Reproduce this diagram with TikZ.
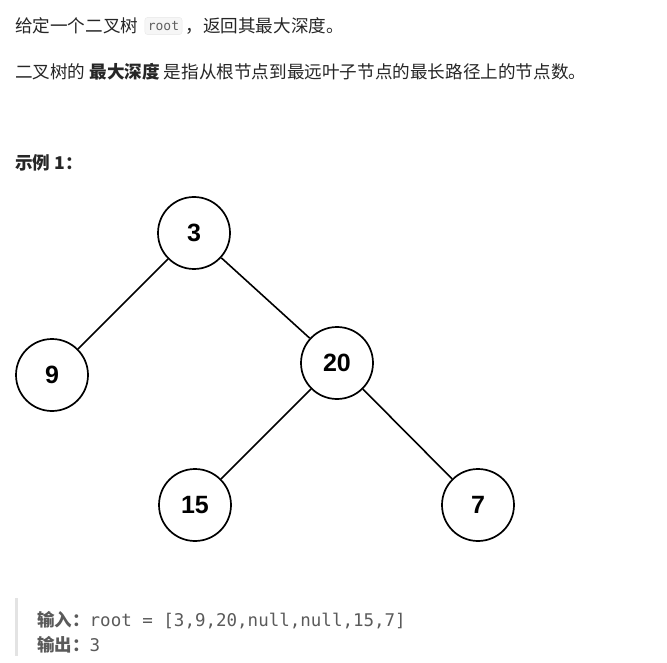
\documentclass[tikz,border=0pt]{standalone}
\usepackage{fontspec}
\setmainfont{Noto Sans CJK SC}
\setmonofont{DejaVu Sans Mono}
\newfontfamily\numfont{Liberation Sans}
\usetikzlibrary{positioning}
\definecolor{txt}{HTML}{262626}
\definecolor{codetxt}{HTML}{5A5A5A}

\begin{document}
\begin{tikzpicture}[x=1pt, y=-1pt,
  line/.style={anchor=west, inner sep=0pt, text=txt, font=\fontsize{17.6}{20}\selectfont},
  inlinecode/.style={draw=gray!18, fill=gray!7, rounded corners=3pt, inner xsep=3pt, inner ysep=4pt, text=gray!75!black, font=\ttfamily\fontsize{13}{15}\selectfont},
  treenode/.style={draw, line width=1.7pt, circle, minimum size=72pt, inner sep=0pt, font=\numfont\bfseries\fontsize{25}{30}\selectfont},
  edge/.style={line width=1.6pt},
  codeline/.style={anchor=west, inner sep=0pt, text=codetxt, font=\fontsize{17.5}{20}\selectfont}
]
\useasboundingbox (0,0) rectangle (667,663);

% problem statement
\node[line] (l1a) at (15,26) {给定一个二叉树};
\node[inlinecode, right=6pt of l1a] (rootcode) {root};
\node[line, right=3pt of rootcode] (l1b) {，返回其最大深度。};
\node[line] (l2) at (15,72) {二叉树的 \textbf{最大深度} 是指从根节点到最远叶子节点的最长路径上的节点数。};
\node[line] (ex) at (15,163) {\textbf{示例 1：}};

% the tree
\node[treenode] (n3) at (194,233) {3};
\node[treenode] (n9) at (52,375) {9};
\node[treenode] (n20) at (337,363) {20};
\node[treenode] (n15) at (195,505) {15};
\node[treenode] (n7) at (478,505) {7};

\draw[edge] (n3) -- (n9);
\draw[edge] (n3) -- (n20);
\draw[edge] (n20) -- (n15);
\draw[edge] (n20) -- (n7);

% example block
\fill[gray!22] (15,598) rectangle (18,656);
\node[codeline] (in) at (37,620) {\textbf{输入：}\ttfamily root = [3,9,20,null,null,15,7]};
\node[codeline] (out) at (37,645) {\textbf{输出：}\ttfamily 3};
\end{tikzpicture}
\end{document}
